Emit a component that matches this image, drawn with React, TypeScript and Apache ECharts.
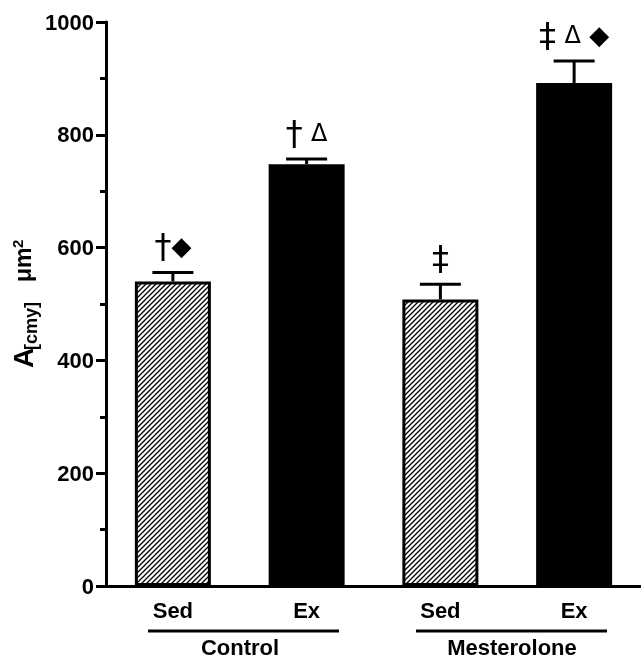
import React, { useEffect, useRef } from 'react';
import * as echarts from 'echarts';

const categories = ['Sed', 'Ex', 'Sed', 'Ex'];
const groupNames = ['Control', 'Mesterolone'];
const means = [540, 748, 508, 892];
const sems = [16, 9, 27, 39];
const hatched = [true, false, true, false];
const annotations = ['†◆', '† Δ', '‡', '‡ Δ ◆'];
const yMin = 0;
const yMax = 1000;
const yInterval = 200;

function makeHatch() {
  const s = 5;
  const c = document.createElement('canvas');
  c.width = s;
  c.height = s;
  const ctx = c.getContext('2d')!;
  ctx.fillStyle = '#fff';
  ctx.fillRect(0, 0, s, s);
  ctx.strokeStyle = '#000';
  ctx.lineWidth = 1.3;
  ctx.beginPath();
  ctx.moveTo(-1, s + 1);
  ctx.lineTo(s + 1, -1);
  ctx.moveTo(-1, 1);
  ctx.lineTo(1, -1);
  ctx.moveTo(s - 1, s + 1);
  ctx.lineTo(s + 1, s - 1);
  ctx.stroke();
  return c;
}

const toRich = (s: string) =>
  s
    .split('')
    .map((ch) => {
      if (ch === '†' || ch === '‡') return `{dag|${ch}}`;
      if (ch === 'Δ') return `{tri|${ch}}`;
      if (ch === '◆') return `{dia|${ch}}`;
      return `{sp|${ch}}`;
    })
    .join('');

const richStyles = {
  dag: { fontSize: 34, fontFamily: 'DejaVu Sans', color: '#000' },
  tri: { fontSize: 24, fontFamily: 'DejaVu Sans', color: '#000' },
  dia: { fontSize: 26, fontFamily: 'DejaVu Sans', color: '#000' },
  sp: { fontSize: 30, fontFamily: 'Liberation Sans', color: '#000' },
};

export default function App() {
  const ref = useRef<HTMLDivElement>(null);
  useEffect(() => {
    document.body.style.margin = '0';
    const chart = echarts.init(ref.current!, null, { renderer: 'svg' });
    const hatch = makeHatch();
    const hatchFill: any = { image: hatch, repeat: 'repeat', imageWidth: 5, imageHeight: 5 };
    const font = 'Liberation Sans';
    chart.setOption({
      animation: false,
      textStyle: { fontFamily: font },
      grid: { left: 106, right: 0, top: 22, bottom: 73 },
      xAxis: {
        type: 'category',
        data: categories,
        axisLine: { lineStyle: { color: '#000', width: 3 } },
        axisTick: { show: false },
        axisLabel: { color: '#000', fontWeight: 'bold', fontSize: 22, margin: 13, fontFamily: font },
      },
      yAxis: {
        type: 'value',
        min: yMin,
        max: yMax,
        interval: yInterval,
        splitLine: { show: false },
        axisLine: { show: true, lineStyle: { color: '#000', width: 3 } },
        axisTick: { show: true, length: 10, lineStyle: { color: '#000', width: 3 } },
        minorTick: { show: true, splitNumber: 2, length: 6, lineStyle: { color: '#000', width: 3 } },
        minorSplitLine: { show: false },
        axisLabel: {
          color: '#000',
          fontWeight: 'bold',
          fontSize: 22,
          margin: 12,
          fontFamily: font,
          formatter: (v: number) => String(v),
        },
      },
      series: [
        {
          type: 'bar',
          barWidth: 76,
          data: means.map((v, i) => ({
            value: v,
            itemStyle: {
              color: hatched[i] ? hatchFill : '#000',
              borderColor: '#000',
              borderWidth: 3,
            },
          })),
        },
        {
          type: 'custom',
          z: 10,
          data: means.map((m, i) => [i, m, m + sems[i]]),
          encode: { x: 0, y: [1, 2] },
          renderItem: (params: any, api: any) => {
            const i = api.value(0);
            const base = api.coord([i, api.value(1)]);
            const top = api.coord([i, api.value(2)]);
            const capHalf = 20.5;
            return {
              type: 'group',
              children: [
                {
                  type: 'line',
                  shape: { x1: base[0], y1: base[1], x2: top[0], y2: top[1] },
                  style: { stroke: '#000', lineWidth: 3 },
                },
                {
                  type: 'line',
                  shape: { x1: top[0] - capHalf, y1: top[1], x2: top[0] + capHalf, y2: top[1] },
                  style: { stroke: '#000', lineWidth: 3 },
                },
                {
                  type: 'text',
                  x: top[0],
                  y: top[1] - 26,
                  style: {
                    text: toRich(annotations[params.dataIndex]),
                    rich: richStyles,
                    align: 'center',
                    verticalAlign: 'middle',
                  },
                },
              ],
            };
          },
        },
      ],
      graphic: [
        {
          type: 'text',
          x: 23,
          y: 368,
          rotation: Math.PI / 2,
          style: { text: 'A', fontSize: 28, fontWeight: 'bold', fontFamily: font, fill: '#000', align: 'left', verticalAlign: 'middle' },
        },
        {
          type: 'text',
          x: 31,
          y: 350,
          rotation: Math.PI / 2,
          style: { text: '[cmy]', fontSize: 18, fontWeight: 'bold', fontFamily: font, fill: '#000', align: 'left', verticalAlign: 'middle' },
        },
        {
          type: 'text',
          x: 23,
          y: 282,
          rotation: Math.PI / 2,
          style: { text: 'μm', fontSize: 23, fontWeight: 'bold', fontFamily: font, fill: '#000', align: 'left', verticalAlign: 'middle' },
        },
        {
          type: 'text',
          x: 17,
          y: 248,
          rotation: Math.PI / 2,
          style: { text: '2', fontSize: 15, fontWeight: 'bold', fontFamily: font, fill: '#000', align: 'left', verticalAlign: 'middle' },
        },
        {
          type: 'line',
          shape: { x1: 148, y1: 631, x2: 339, y2: 631 },
          style: { stroke: '#000', lineWidth: 3 },
        },
        {
          type: 'line',
          shape: { x1: 416, y1: 631, x2: 607, y2: 631 },
          style: { stroke: '#000', lineWidth: 3 },
        },
        {
          type: 'text',
          x: 240,
          y: 647,
          style: { text: groupNames[0], fontSize: 22, fontWeight: 'bold', fontFamily: font, fill: '#000', align: 'center', verticalAlign: 'middle' },
        },
        {
          type: 'text',
          x: 512,
          y: 647,
          style: { text: groupNames[1], fontSize: 22, fontWeight: 'bold', fontFamily: font, fill: '#000', align: 'center', verticalAlign: 'middle' },
        },
      ],
    });
    return () => chart.dispose();
  }, []);
  return <div ref={ref} style={{ position: 'fixed', left: 0, top: 0, width: 641, height: 659 }} />;
}
